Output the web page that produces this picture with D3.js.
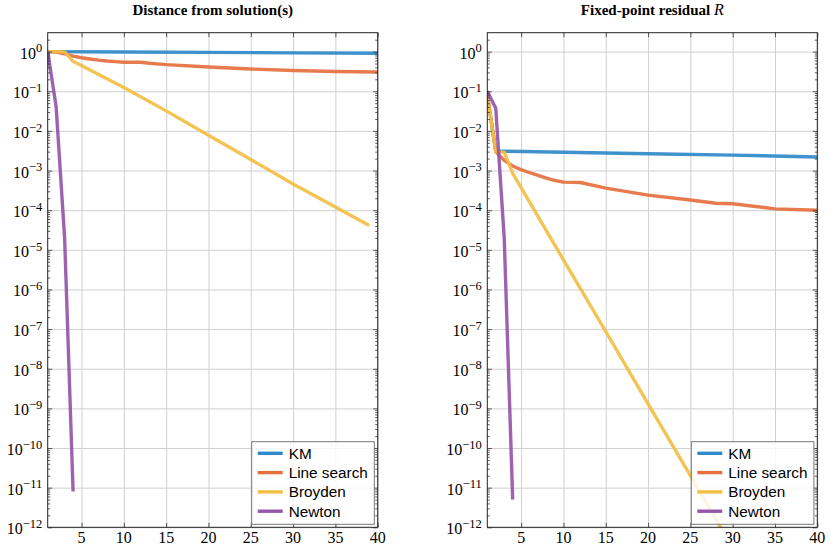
<!DOCTYPE html>
<html>
<head>
<meta charset="utf-8">
<script src="https://cdn.jsdelivr.net/npm/d3@7"></script>
<style>
  body { margin: 0; background: #fff; }
  .grid line { stroke: #d0d0d0; stroke-width: 1; }
  .grid .domain { display: none; }
  .ticks line { stroke: #333; stroke-width: 0.8; }
  .ticks .domain { display: none; }
</style>
</head>
<body>
<div id="chart"></div>
<script>

// ---- data ----
var seriesNames  = ["KM", "Line search", "Broyden", "Newton"];
var seriesColors = ["#3089c9", "#e5703f", "#f2bf45", "#9656a9"];

var xTicks      = [5, 10, 15, 20, 25, 30, 35, 40];
var yExponents  = [0, -1, -2, -3, -4, -5, -6, -7, -8, -9, -10, -11, -12];

// Distance from solution(s): [iteration, value]
var distanceKM         = [[1, 1.0], [10, 0.98], [20, 0.955], [30, 0.93], [40, 0.91]];
var distanceLineSearch = [[1, 1.0], [2, 0.97], [3, 0.88], [4, 0.77], [5, 0.70], [6, 0.65], [7, 0.61],
                          [8, 0.58], [9, 0.56], [10, 0.54], [12, 0.54], [13, 0.51], [15, 0.47],
                          [20, 0.41], [25, 0.365], [30, 0.335], [35, 0.315], [40, 0.305]];
var distanceBroyden    = [[1, 1.0], [2, 1.0], [3, 0.98], [4, 0.57], [10, 0.125], [15, 0.032],
                          [20, 0.0078], [25, 0.0019], [30, 4.6e-4], [35, 1.2e-4], [39, 4.1e-5]];
var distanceNewton     = [[1, 1.0], [2, 0.04], [3, 2e-5], [4, 8e-12]];

// Fixed-point residual R: [iteration, value]
var residualKM         = [[1, 0.08], [2, 3.1e-3], [10, 2.9e-3], [20, 2.65e-3], [30, 2.45e-3], [40, 2.2e-3]];
var residualLineSearch = [[1, 0.08], [2, 3.0e-3], [3, 1.8e-3], [4, 1.3e-3], [5, 1.05e-3], [6, 8.8e-4],
                          [7, 7.5e-4], [8, 6.4e-4], [9, 5.6e-4], [10, 5.1e-4], [12, 5.0e-4], [15, 3.6e-4],
                          [20, 2.4e-4], [25, 1.8e-4], [28, 1.5e-4], [30, 1.45e-4], [35, 1.08e-4], [40, 1.0e-4]];
var residualBroyden    = [[1, 0.08], [2, 3.0e-3], [3, 2.9e-3], [4, 8.5e-4], [10, 5.6e-6], [15, 8.7e-8],
                          [20, 1.3e-9], [25, 2.0e-11], [30, 3.0e-13]];
var residualNewton     = [[1, 0.1], [2, 0.037], [3, 2e-5], [4, 5e-12]];

var serifFont = "'Liberation Serif', 'Times New Roman', serif";
var sansFont  = "'Liberation Sans', Arial, sans-serif";

var svg = d3.select("#chart").append("svg")
  .attr("width", 830)
  .attr("height", 548);

/*
 * ConvergencePlot - one log-scale panel
 */
ConvergencePlot = function(_svg, _left, _id, _title, _series){
  this.svg    = _svg;
  this.left   = _left;
  this.id     = _id;
  this.title  = _title;
  this.series = _series;

  this.initVis();
}

ConvergencePlot.prototype.initVis = function(){
  var vis = this;

  vis.top = 32.7;
  vis.width = 330;
  vis.height = 494.6;

  vis.g = vis.svg.append("g")
    .attr("transform", "translate(" + vis.left + "," + vis.top + ")");

  // Scales
  vis.x = d3.scaleLinear().domain([1, 40]).range([0, vis.width]);
  vis.y = d3.scaleLog().domain([1e-12, 3]).range([vis.height, 0]);

  var majors = yExponents.map(function(e){ return Math.pow(10, e); });
  var minors = [];
  yExponents.forEach(function(e){
    for (var m = 2; m <= 9; m++) {
      var v = m * Math.pow(10, e);
      if (v < 3) minors.push(v);
    }
  });

  // Grid
  vis.g.append("g")
    .attr("class", "grid")
    .attr("transform", "translate(0," + vis.height + ")")
    .call(d3.axisBottom(vis.x).tickValues(xTicks).tickSize(-vis.height).tickFormat(""));

  vis.g.append("g")
    .attr("class", "grid")
    .call(d3.axisLeft(vis.y).tickValues(majors).tickSize(-vis.width).tickFormat(""));

  // Lines
  vis.g.append("clipPath")
    .attr("id", "clip-" + vis.id)
    .append("rect")
    .attr("width", vis.width)
    .attr("height", vis.height);

  vis.line = d3.line()
    .x(function(d){ return vis.x(d[0]); })
    .y(function(d){ return vis.y(d[1]); });

  vis.g.append("g")
    .attr("clip-path", "url(#clip-" + vis.id + ")")
    .selectAll("path")
    .data(vis.series)
    .enter().append("path")
    .attr("d", function(d){ return vis.line(d); })
    .attr("fill", "none")
    .attr("stroke", function(d, i){ return seriesColors[i]; })
    .attr("stroke-width", 3.4)
    .attr("stroke-opacity", 0.92)
    .attr("stroke-linejoin", "round");

  // Ticks (inside, mirrored)
  vis.g.append("g").attr("class", "ticks")
    .attr("transform", "translate(0," + vis.height + ")")
    .call(d3.axisBottom(vis.x).tickValues(xTicks).tickSize(-4.5).tickFormat(""));
  vis.g.append("g").attr("class", "ticks")
    .call(d3.axisTop(vis.x).tickValues(xTicks).tickSize(-4.5).tickFormat(""));
  vis.g.append("g").attr("class", "ticks")
    .call(d3.axisLeft(vis.y).tickValues(majors).tickSize(-4.5).tickFormat(""));
  vis.g.append("g").attr("class", "ticks")
    .attr("transform", "translate(" + vis.width + ",0)")
    .call(d3.axisRight(vis.y).tickValues(majors).tickSize(-4.5).tickFormat(""));
  vis.g.append("g").attr("class", "ticks")
    .call(d3.axisLeft(vis.y).tickValues(minors).tickSize(-2.5).tickFormat(""));
  vis.g.append("g").attr("class", "ticks")
    .attr("transform", "translate(" + vis.width + ",0)")
    .call(d3.axisRight(vis.y).tickValues(minors).tickSize(-2.5).tickFormat(""));

  // Frame
  vis.g.append("rect")
    .attr("width", vis.width)
    .attr("height", vis.height)
    .attr("fill", "none")
    .attr("stroke", "#222")
    .attr("stroke-width", 1);

  // Tick labels
  vis.g.selectAll(".xlabel")
    .data(xTicks)
    .enter().append("text")
    .attr("x", function(d){ return vis.x(d); })
    .attr("y", vis.height + 15.5)
    .attr("text-anchor", "middle")
    .style("font-family", serifFont)
    .style("font-size", "16px")
    .text(function(d){ return d; });

  var ylab = vis.g.selectAll(".ylabel")
    .data(yExponents)
    .enter().append("text")
    .attr("x", -5.5)
    .attr("y", function(d){ return vis.y(Math.pow(10, d)) + 7; })
    .attr("text-anchor", "end")
    .style("font-family", serifFont)
    .style("font-size", "16px");
  ylab.append("tspan").text("10");
  ylab.append("tspan")
    .attr("dy", "-0.5em")
    .style("font-size", "12.5px")
    .text(function(d){ return d < 0 ? "\u2212" + (-d) : d; });

  // Title
  var t = vis.g.append("text")
    .attr("x", vis.width / 2)
    .attr("y", -18)
    .attr("text-anchor", "middle")
    .style("font-family", serifFont)
    .style("font-weight", "bold")
    .style("font-size", "15px");
  t.append("tspan").text(vis.title[0]);
  if (vis.title[1]) {
    t.append("tspan").text(" ");
    t.append("tspan")
      .style("font-style", "italic")
      .style("font-weight", "normal")
      .style("font-size", "16px")
      .text(vis.title[1]);
  }

  // Legend
  var lw = 122.6, lh = 82.6;
  var legend = vis.g.append("g")
    .attr("transform", "translate(" + (vis.width - 3.4 - lw) + "," + (vis.height - 3 - lh) + ")");

  legend.append("rect")
    .attr("width", lw)
    .attr("height", lh)
    .attr("fill", "#fff")
    .attr("fill-opacity", 0.82)
    .attr("stroke", "#777")
    .attr("stroke-width", 1);

  var entry = legend.selectAll(".entry")
    .data(seriesNames)
    .enter().append("g")
    .attr("transform", function(d, i){ return "translate(0," + (11.6 + i * 19.3) + ")"; });

  entry.append("line")
    .attr("x1", 6).attr("x2", 31)
    .attr("stroke", function(d, i){ return seriesColors[i]; })
    .attr("stroke-width", 3.4);

  entry.append("text")
    .attr("x", 37)
    .attr("y", 5.5)
    .style("font-family", sansFont)
    .style("font-size", "15.3px")
    .text(function(d){ return d; });
}

new ConvergencePlot(svg, 47.7, "dist", ["Distance from solution(s)"],
  [distanceKM, distanceLineSearch, distanceBroyden, distanceNewton]);
new ConvergencePlot(svg, 487.3, "res", ["Fixed-point residual", "R"],
  [residualKM, residualLineSearch, residualBroyden, residualNewton]);

</script>
</body>
</html>
